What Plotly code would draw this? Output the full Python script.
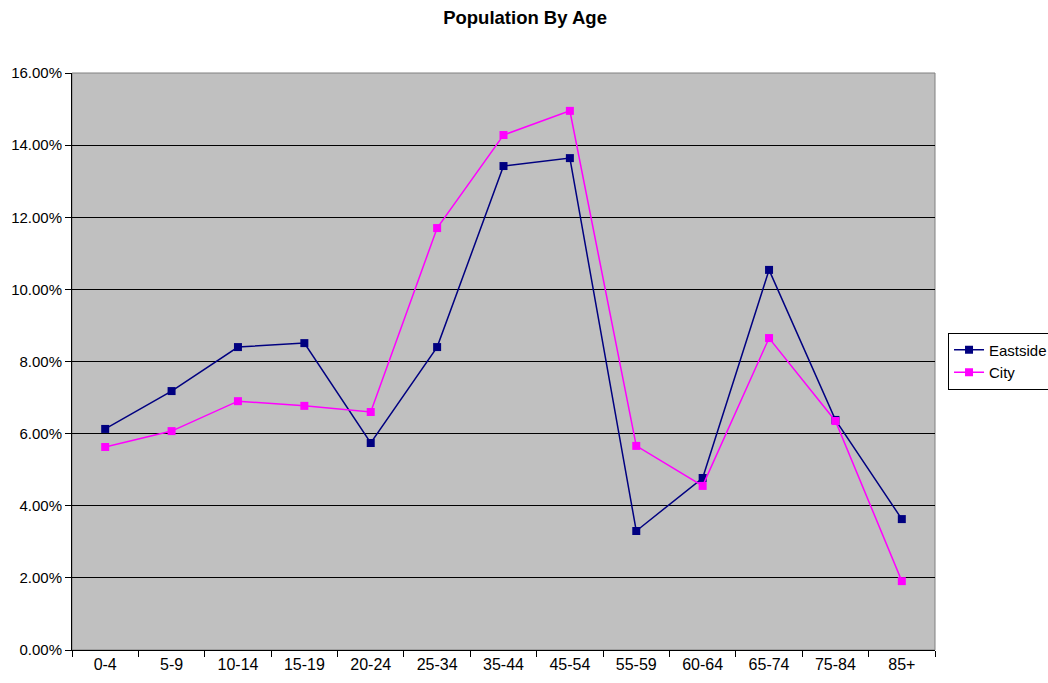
import plotly.graph_objects as go

categories = ["0-4", "5-9", "10-14", "15-19", "20-24", "25-34", "35-44",
              "45-54", "55-59", "60-64", "65-74", "75-84", "85+"]
eastside = [0.0613, 0.0718, 0.0840, 0.0851, 0.0574, 0.0840, 0.1342,
            0.1364, 0.0330, 0.0477, 0.1054, 0.0638, 0.0363]
city = [0.0563, 0.0607, 0.0690, 0.0677, 0.0660, 0.1170, 0.1428,
        0.1495, 0.0566, 0.0455, 0.0865, 0.0635, 0.0191]

font = "Liberation Sans, Arial, sans-serif"

fig = go.Figure()
fig.add_trace(go.Scatter(x=categories, y=eastside, name="Eastside", mode="lines+markers",
                         line=dict(color="#000080", width=1.5),
                         marker=dict(symbol="square", size=8, color="#000080")))
fig.add_trace(go.Scatter(x=categories, y=city, name="City", mode="lines+markers",
                         line=dict(color="#FF00FF", width=1.5),
                         marker=dict(symbol="square", size=8, color="#FF00FF")))

fig.update_layout(
    width=1048, height=683,
    margin=dict(l=72, r=113, t=73, b=33),
    paper_bgcolor="white", plot_bgcolor="#C0C0C0",
    font=dict(family=font, size=15, color="black"),
    title=dict(text="<b>Population By Age</b>", x=0.501, xanchor="center",
               xref="container", y=0.974, yanchor="middle",
               font=dict(family=font, size=18.5, color="black")),
    showlegend=True,
    legend=dict(xref="container", yref="container", x=0.9046, xanchor="left",
                y=0.4714, yanchor="middle",
                bordercolor="black", borderwidth=1, bgcolor="white",
                font=dict(family=font, size=15), tracegroupgap=0, itemwidth=30),
    xaxis=dict(type="category", range=[-0.5, 12.5], tickson="boundaries",
               ticks="outside", ticklen=6,
               tickcolor="black", showline=True, linecolor="black", linewidth=1,
               showgrid=False, mirror=False, tickfont=dict(size=16), automargin=False),
    yaxis=dict(range=[0, 0.16], dtick=0.02, tickformat=".2%", ticks="outside", ticklen=6,
               tickcolor="black", showline=True, linecolor="black", linewidth=1,
               showgrid=True, gridcolor="black", gridwidth=1, zeroline=False,
               tickfont=dict(size=15), automargin=False),
)
# plot-area border (top/right)
fig.add_shape(type="rect", xref="paper", yref="paper", x0=0, y0=0, x1=1, y1=1,
              line=dict(color="#808080", width=1), layer="below")

fig.write_html("out.html", config={"displayModeBar": False},
               post_script="document.body.style.margin='0';document.body.style.overflow='hidden';")
